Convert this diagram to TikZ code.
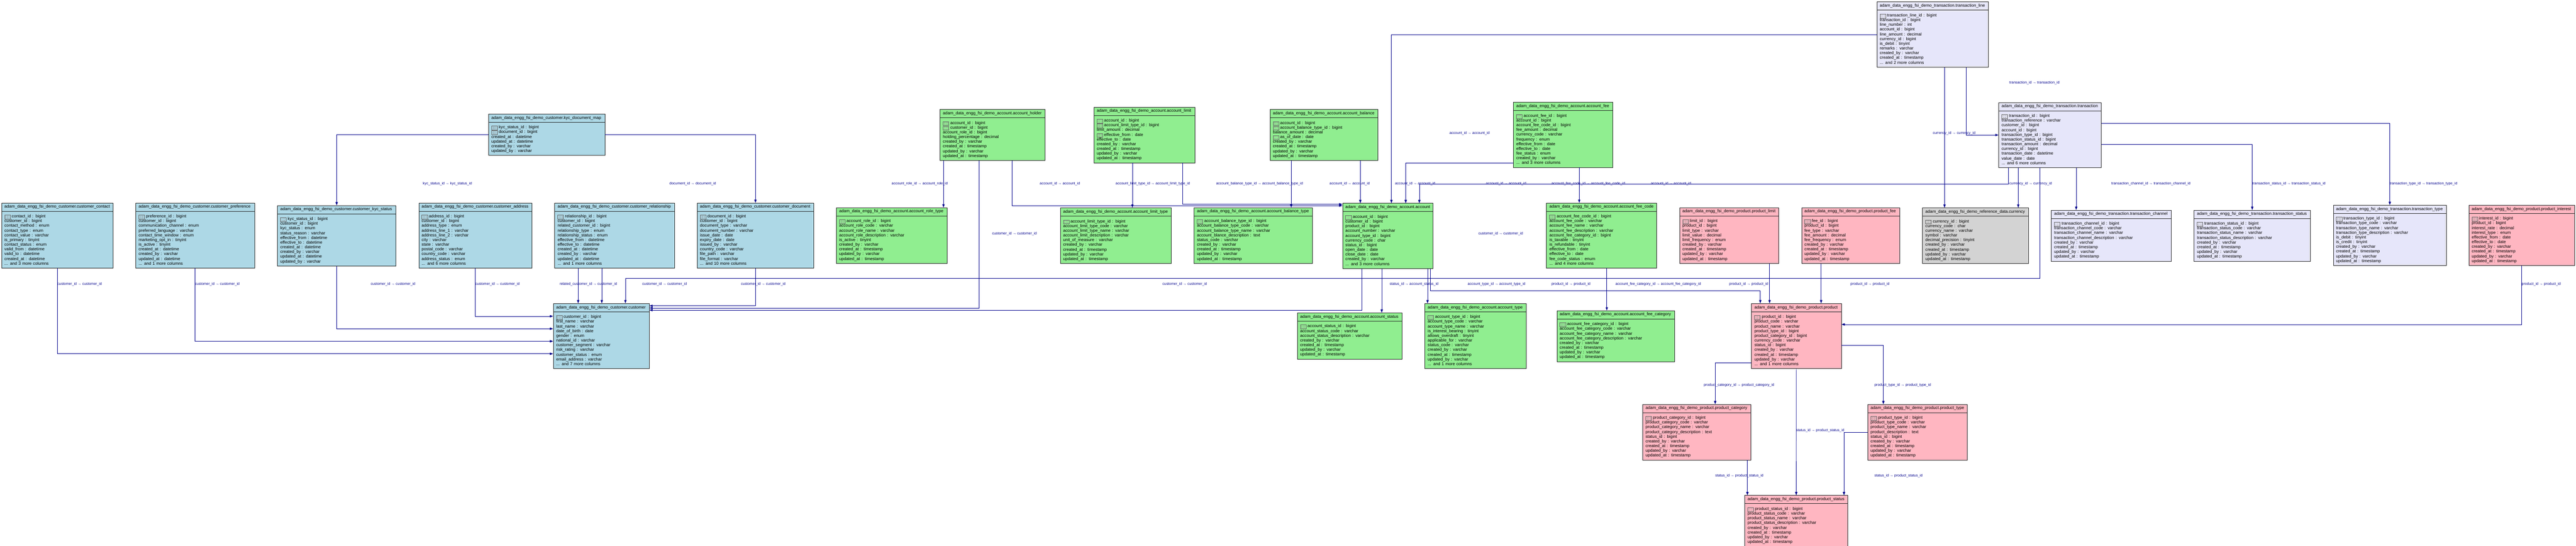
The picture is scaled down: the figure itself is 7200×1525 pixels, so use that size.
\documentclass[tikz,border=0pt]{standalone}
\usepackage{fontspec}
\setmainfont{Liberation Sans}
\usetikzlibrary{shapes.multipart,arrows.meta}
\definecolor{custblue}{RGB}{173,216,230}
\definecolor{acctgreen}{RGB}{144,238,144}
\definecolor{prodpink}{RGB}{255,182,193}
\definecolor{trlav}{RGB}{230,230,250}
\definecolor{refgray}{RGB}{211,211,211}
\definecolor{fkblue}{RGB}{0,0,139}
\newcommand\tfont{\fontsize{11.7}{13.2}\selectfont\parindent=0pt}
\newcommand\fld{\par\strut}
\newcommand\keyic{\tikz[x=1pt,y=1pt,baseline=3.5pt]{\draw[black!60,line width=0.6pt] (0,0) rectangle (16,11);
  \foreach \u in {4,8,12} \draw[black!45,line width=0.5pt] (\u,2) -- (\u,4.5) (\u,6.5) -- (\u,9);}\hspace{4pt}}
\tikzset{
  tbl/.style={rectangle split, rectangle split parts=2, draw=black!85, line width=1pt, fill=#1,
    anchor=north west, inner xsep=8pt, inner ysep=4.4pt, align=left, font=\tfont},
  fk/.style={draw=fkblue, line width=1pt, -{Triangle[length=9pt,width=6.5pt]}},
  lbl/.style={anchor=west, inner sep=0pt, text=fkblue, font=\fontsize{10}{12}\selectfont}
}
\begin{document}
\catcode`\_=12
\begin{tikzpicture}[x=1pt,y=-1pt]
  \def\pre{adam_data_engg_fsi_demo_}
  \useasboundingbox (0,0) rectangle (7200,1525);
  % customer schema
  \node[tbl=custblue, text width=296pt] (contact) at (4,567) {\strut\pre customer.customer_contact
    \nodepart{two}\fld\keyic contact_id : bigint \fld customer_id : bigint \fld contact_method : enum
    \fld contact_type : enum \fld contact_value : varchar \fld is_primary : tinyint \fld contact_status : enum
    \fld valid_from : datetime \fld valid_to : datetime \fld created_at : datetime \fld ... and 3 more columns};
  \node[tbl=custblue, text width=316pt] (pref) at (379,567) {\strut\pre customer.customer_preference
    \nodepart{two}\fld\keyic preference_id : bigint \fld customer_id : bigint \fld communication_channel : enum
    \fld preferred_language : varchar \fld contact_time_window : enum \fld marketing_opt_in : tinyint
    \fld is_active : tinyint \fld created_at : datetime \fld created_by : varchar \fld updated_at : datetime
    \fld ... and 1 more columns};
  \node[tbl=custblue, text width=315pt] (kycst) at (775,574) {\strut\pre customer.customer_kyc_status
    \nodepart{two}\fld\keyic kyc_status_id : bigint \fld customer_id : bigint \fld kyc_status : enum
    \fld status_reason : varchar \fld effective_from : datetime \fld effective_to : datetime
    \fld created_at : datetime \fld created_by : varchar \fld updated_at : datetime \fld updated_by : varchar};
  \node[tbl=custblue, text width=300pt] (address) at (1170,567) {\strut\pre customer.customer_address
    \nodepart{two}\fld\keyic address_id : bigint \fld customer_id : bigint \fld address_type : enum
    \fld address_line_1 : varchar \fld address_line_2 : varchar \fld city : varchar \fld state : varchar
    \fld postal_code : varchar \fld country_code : varchar \fld address_status : enum \fld ... and 6 more columns};
  \node[tbl=custblue, text width=319pt] (relship) at (1550,567) {\strut\pre customer.customer_relationship
    \nodepart{two}\fld\keyic relationship_id : bigint \fld customer_id : bigint \fld related_customer_id : bigint
    \fld relationship_type : enum \fld relationship_status : enum \fld effective_from : datetime
    \fld effective_to : datetime \fld created_at : datetime \fld created_by : varchar \fld updated_at : datetime
    \fld ... and 1 more columns};
  \node[tbl=custblue, text width=310pt] (document) at (1948,567) {\strut\pre customer.customer_document
    \nodepart{two}\fld\keyic document_id : bigint \fld customer_id : bigint \fld document_type : varchar
    \fld document_number : varchar \fld issue_date : date \fld expiry_date : date \fld issued_by : varchar
    \fld country_code : varchar \fld file_path : varchar \fld file_format : varchar \fld ... and 10 more columns};
  \node[tbl=custblue, text width=309pt] (kycmap) at (1365,318) {\strut\pre customer.kyc_document_map
    \nodepart{two}\fld\keyic kyc_status_id : bigint \fld\keyic document_id : bigint \fld created_at : datetime
    \fld updated_at : datetime \fld created_by : varchar \fld updated_by : varchar};
  \node[tbl=custblue, text width=252pt] (customer) at (1546,848) {\strut\pre customer.customer
    \nodepart{two}\fld\keyic customer_id : bigint \fld first_name : varchar \fld last_name : varchar
    \fld date_of_birth : date \fld gender : enum \fld national_id : varchar \fld customer_segment : varchar
    \fld risk_rating : varchar \fld customer_status : enum \fld email_address : varchar \fld ... and 7 more columns};
  % account schema
  \node[tbl=acctgreen, text width=277pt] (holder) at (2627,305.5) {\strut\pre account.account_holder
    \nodepart{two}\fld\keyic account_id : bigint \fld\keyic customer_id : bigint \fld account_role_id : bigint
    \fld holding_percentage : decimal \fld created_by : varchar \fld created_at : timestamp
    \fld updated_by : varchar \fld updated_at : timestamp};
  \node[tbl=acctgreen, text width=266pt] (limit) at (3057,299) {\strut\pre account.account_limit
    \nodepart{two}\fld\keyic account_id : bigint \fld\keyic account_limit_type_id : bigint \fld limit_amount : decimal
    \fld\keyic effective_from : date \fld effective_to : date \fld created_by : varchar \fld created_at : timestamp
    \fld updated_by : varchar \fld updated_at : timestamp};
  \node[tbl=acctgreen, text width=286pt] (balance) at (3549,305.5) {\strut\pre account.account_balance
    \nodepart{two}\fld\keyic account_id : bigint \fld\keyic account_balance_type_id : bigint \fld balance_amount : decimal
    \fld\keyic as_of_date : date \fld created_by : varchar \fld created_at : timestamp
    \fld updated_by : varchar \fld updated_at : timestamp};
  \node[tbl=acctgreen, text width=261pt] (fee) at (4229.5,285.7) {\strut\pre account.account_fee
    \nodepart{two}\fld\keyic account_fee_id : bigint \fld account_id : bigint \fld account_fee_code_id : bigint
    \fld fee_amount : decimal \fld currency_code : varchar \fld frequency : enum \fld effective_from : date
    \fld effective_to : date \fld fee_status : enum \fld created_by : varchar \fld ... and 3 more columns};
  \node[tbl=acctgreen, text width=293pt] (roletype) at (2337,580) {\strut\pre account.account_role_type
    \nodepart{two}\fld\keyic account_role_id : bigint \fld account_role_code : varchar \fld account_role_name : varchar
    \fld account_role_description : varchar \fld is_active : tinyint \fld created_by : varchar
    \fld created_at : timestamp \fld updated_by : varchar \fld updated_at : timestamp};
  \node[tbl=acctgreen, text width=294pt] (limittype) at (2963,580.5) {\strut\pre account.account_limit_type
    \nodepart{two}\fld\keyic account_limit_type_id : bigint \fld account_limit_type_code : varchar
    \fld account_limit_type_name : varchar \fld account_limit_description : varchar \fld unit_of_measure : varchar
    \fld created_by : varchar \fld created_at : timestamp \fld updated_by : varchar \fld updated_at : timestamp};
  \node[tbl=acctgreen, text width=314pt] (baltype) at (3337,580) {\strut\pre account.account_balance_type
    \nodepart{two}\fld\keyic account_balance_type_id : bigint \fld account_balance_type_code : varchar
    \fld account_balance_type_name : varchar \fld account_blance_description : text \fld status_code : varchar
    \fld created_by : varchar \fld created_at : timestamp \fld updated_by : varchar \fld updated_at : timestamp};
  \node[tbl=acctgreen, text width=237pt] (account) at (3752,568) {\strut\pre account.account
    \nodepart{two}\fld\keyic account_id : bigint \fld customer_id : bigint \fld product_id : bigint
    \fld account_number : varchar \fld account_type_id : bigint \fld currency_code : char \fld status_id : bigint
    \fld open_date : date \fld close_date : date \fld created_by : varchar \fld ... and 3 more columns};
  \node[tbl=acctgreen, text width=292pt] (feecode) at (4322,567) {\strut\pre account.account_fee_code
    \nodepart{two}\fld\keyic account_fee_code_id : bigint \fld account_fee_code : varchar \fld account_fee_name : varchar
    \fld account_fee_description : varchar \fld account_fee_category_id : bigint \fld is_taxable : tinyint
    \fld is_refundable : tinyint \fld effective_from : date \fld effective_to : date \fld fee_code_status : enum
    \fld ... and 4 more columns};
  \node[tbl=acctgreen, text width=277pt] (acctstatus) at (3625.5,874) {\strut\pre account.account_status
    \nodepart{two}\fld\keyic account_status_id : bigint \fld account_status_code : varchar
    \fld account_status_description : varchar \fld created_by : varchar \fld created_at : timestamp
    \fld updated_by : varchar \fld updated_at : timestamp};
  \node[tbl=acctgreen, text width=267pt] (accttype) at (3982,848) {\strut\pre account.account_type
    \nodepart{two}\fld\keyic account_type_id : bigint \fld account_type_code : varchar \fld account_type_name : varchar
    \fld is_interest_bearing : tinyint \fld allows_overdraft : tinyint \fld applicable_for : varchar
    \fld status_code : varchar \fld created_by : varchar \fld created_at : timestamp \fld updated_by : varchar
    \fld ... and 1 more columns};
  \node[tbl=acctgreen, text width=313pt] (feecat) at (4351,868) {\strut\pre account.account_fee_category
    \nodepart{two}\fld\keyic account_fee_category_id : bigint \fld account_fee_category_code : varchar
    \fld account_fee_category_name : varchar \fld account_fee_category_description : varchar
    \fld created_by : varchar \fld created_at : timestamp \fld updated_by : varchar \fld updated_at : timestamp};
  % product schema
  \node[tbl=prodpink, text width=261pt] (plimit) at (4694,580) {\strut\pre product.product_limit
    \nodepart{two}\fld\keyic limit_id : bigint \fld product_id : bigint \fld limit_type : varchar
    \fld limit_value : decimal \fld limit_frequency : enum \fld created_by : varchar \fld created_at : timestamp
    \fld updated_by : varchar \fld updated_at : timestamp};
  \node[tbl=prodpink, text width=258pt] (pfee) at (5035,580) {\strut\pre product.product_fee
    \nodepart{two}\fld\keyic fee_id : bigint \fld product_id : bigint \fld fee_type : varchar
    \fld fee_amount : decimal \fld fee_frequency : enum \fld created_by : varchar \fld created_at : timestamp
    \fld updated_by : varchar \fld updated_at : timestamp};
  \node[tbl=prodpink, text width=279pt] (pinterest) at (6900,573) {\strut\pre product.product_interest
    \nodepart{two}\fld\keyic interest_id : bigint \fld product_id : bigint \fld interest_rate : decimal
    \fld interest_type : enum \fld effective_from : date \fld effective_to : date \fld created_by : varchar
    \fld created_at : timestamp \fld updated_by : varchar \fld updated_at : timestamp};
  \node[tbl=prodpink, text width=235pt] (product) at (4895,848) {\strut\pre product.product
    \nodepart{two}\fld\keyic product_id : bigint \fld product_code : varchar \fld product_name : varchar
    \fld product_type_id : bigint \fld product_category_id : bigint \fld currency_code : varchar
    \fld status_id : bigint \fld created_by : varchar \fld created_at : timestamp \fld updated_by : varchar
    \fld ... and 1 more columns};
  \node[tbl=prodpink, text width=286pt] (pcategory) at (4591,1130) {\strut\pre product.product_category
    \nodepart{two}\fld\keyic product_category_id : bigint \fld product_category_code : varchar
    \fld product_category_name : varchar \fld product_category_description : text \fld status_id : bigint
    \fld created_by : varchar \fld created_at : timestamp \fld updated_by : varchar \fld updated_at : timestamp};
  \node[tbl=prodpink, text width=262pt] (ptype) at (5220,1130) {\strut\pre product.product_type
    \nodepart{two}\fld\keyic product_type_id : bigint \fld product_type_code : varchar \fld product_type_name : varchar
    \fld product_description : text \fld status_id : bigint \fld created_by : varchar \fld created_at : timestamp
    \fld updated_by : varchar \fld updated_at : timestamp};
  \node[tbl=prodpink, text width=272pt] (pstatus) at (4876,1384.5) {\strut\pre product.product_status
    \nodepart{two}\fld\keyic product_status_id : bigint \fld product_status_code : varchar
    \fld product_status_name : varchar \fld product_status_description : varchar \fld created_by : varchar
    \fld created_at : timestamp \fld updated_by : varchar \fld updated_at : timestamp};
  % transaction schema
  \node[tbl=trlav, text width=296pt] (tline) at (5245.5,5) {\strut\pre transaction.transaction_line
    \nodepart{two}\fld\keyic transaction_line_id : bigint \fld transaction_id : bigint \fld line_number : int
    \fld account_id : bigint \fld line_amount : decimal \fld currency_id : bigint \fld is_debit : tinyint
    \fld remarks : varchar \fld created_by : varchar \fld created_at : timestamp \fld ... and 2 more columns};
  \node[tbl=trlav, text width=270pt] (trans) at (5586,286) {\strut\pre transaction.transaction
    \nodepart{two}\fld\keyic transaction_id : bigint \fld transaction_reference : varchar \fld customer_id : bigint
    \fld account_id : bigint \fld transaction_type_id : bigint \fld transaction_status_id : bigint
    \fld transaction_amount : decimal \fld currency_id : bigint \fld transaction_date : datetime
    \fld value_date : date \fld ... and 6 more columns};
  \node[tbl=trlav, text width=319pt] (tchannel) at (5733,587) {\strut\pre transaction.transaction_channel
    \nodepart{two}\fld\keyic transaction_channel_id : bigint \fld transaction_channel_code : varchar
    \fld transaction_channel_name : varchar \fld transaction_channel_description : varchar
    \fld created_by : varchar \fld created_at : timestamp \fld updated_by : varchar \fld updated_at : timestamp};
  \node[tbl=trlav, text width=309pt] (tstatus) at (6132,587) {\strut\pre transaction.transaction_status
    \nodepart{two}\fld\keyic transaction_status_id : bigint \fld transaction_status_code : varchar
    \fld transaction_status_name : varchar \fld transaction_status_description : varchar
    \fld created_by : varchar \fld created_at : timestamp \fld updated_by : varchar \fld updated_at : timestamp};
  \node[tbl=trlav, text width=300pt] (ttype) at (6521,573) {\strut\pre transaction.transaction_type
    \nodepart{two}\fld\keyic transaction_type_id : bigint \fld transaction_type_code : varchar
    \fld transaction_type_name : varchar \fld transaction_type_description : varchar \fld is_debit : tinyint
    \fld is_credit : tinyint \fld created_by : varchar \fld created_at : timestamp \fld updated_by : varchar
    \fld updated_at : timestamp};
  % reference data
  \node[tbl=refgray, text width=280pt] (currency) at (5373,580.6) {\strut\pre reference_data.currency
    \nodepart{two}\fld\keyic currency_id : bigint \fld currency_code : char \fld currency_name : varchar
    \fld symbol : varchar \fld decimal_precision : tinyint \fld created_by : varchar \fld created_at : timestamp
    \fld updated_by : varchar \fld updated_at : timestamp};
  % foreign keys
  \draw[fk] (contact.south) |- (customer.west |- 0,989);
  \draw[fk] (pref.south) |- (customer.west |- 0,954);
  \draw[fk] (kycst.south) |- (customer.west |- 0,919);
  \draw[fk] (address.south) |- (customer.west |- 0,884);
  \draw[fk] (relship.south -| 1616,0) -- (customer.north -| 1616,0);
  \draw[fk] (relship.south -| 1682,0) -- (customer.north -| 1682,0);
  \draw[fk] (document.south) |- (customer.east |- 0,855);
  \draw[fk] (kycmap.west) -| (kycst.north);
  \draw[fk] (kycmap.east) -| (document.north);
  \draw[fk] (holder.south -| 2637,0) -- (roletype.north -| 2637,0);
  \draw[fk] (holder.south -| 2737,0) |- (customer.east |- 0,861);
  \draw[fk] (holder.south -| 2829,0) |- (account.west |- 0,575);
  \draw[fk] (limit.south -| 3165,0) -- (limittype.north -| 3165,0);
  \draw[fk] (limit.south -| 3305,0) |- (account.west |- 0,571);
  \draw[fk] (balance.south -| 3609,0) -- (baltype.north -| 3609,0);
  \draw[fk] (balance.south -| 3802,0) -- (account.north -| 3802,0);
  \draw[fk] (fee.west |- 0,455) -| (account.north -| 3929,0);
  \draw[fk] (fee.south -| 4414,0) -- (feecode.north -| 4414,0);
  \draw[fk] (feecode.south -| 4491,0) -- (feecat.north -| 4491,0);
  \draw[fk] (account.south -| 3807,0) |- (customer.east |- 0,867);
  \draw[fk] (account.south -| 3862,0) -- (acctstatus.north -| 3862,0);
  \draw[fk] (account.south -| 3990,0) -- (accttype.north -| 3990,0);
  \draw[fk] (account.south -| 3998,0) -- (3998,813) -| (product.north -| 4920,0);
  \draw[fk] (tline.west) -| (account.north -| 3889,0);
  \draw[fk] (tline.south -| 5496,0) |- (trans.west);
  \draw[fk] (tline.south -| 5435,0) -- (currency.north -| 5435,0);
  \draw[fk] (trans.south -| 5613,0) -- (5613,514) -| (account.north -| 3967,0);
  \draw[fk] (trans.south -| 5701,0) -- (5701,778) -| (customer.north -| 1748,0);
  \draw[fk] (trans.south -| 5641,0) -- (currency.north -| 5641,0);
  \draw[fk] (trans.south -| 5803,0) -- (tchannel.north -| 5803,0);
  \draw[fk] (trans.east |- 0,404) -| (tstatus.north);
  \draw[fk] (trans.east |- 0,345) -| (ttype.north);
  \draw[fk] (plimit.south -| 4946,0) -- (product.north -| 4946,0);
  \draw[fk] (pfee.south -| 5090,0) -- (product.north -| 5090,0);
  \draw[fk] (pinterest.south) |- (product.east |- 0,907);
  \draw[fk] (product.west |- 0,1014) -| (pcategory.north -| 4794,0);
  \draw[fk] (product.east |- 0,966) -| (ptype.north -| 5264,0);
  \draw[fk] (product.south) -- (pstatus.north);
  \draw[fk] (pcategory.south -| 4884,0) -- (pstatus.north -| 4884,0);
  \draw[fk] (ptype.west) -| (pstatus.north -| 5154,0);
  % edge labels
  \foreach \x/\y/\t [count=\i] in {
    160/795/customer_id → customer_id, 545/795/customer_id → customer_id,
    1036/795/customer_id → customer_id, 1328/795/customer_id → customer_id,
    1564/794/related_customer_id → customer_id, 1795/794/customer_id → customer_id,
    2071/794/customer_id → customer_id, 1182/513/kyc_status_id → kyc_status_id,
    1871/513/document_id → document_id, 2492/513/account_role_id → account_role_id,
    2906/514/account_id → account_id, 3118/514/account_limit_type_id → account_limit_type_id,
    3399/514/account_balance_type_id → account_balance_type_id, 3716/514/account_id → account_id,
    3899/513/account_id → account_id, 4153/513/account_id → account_id,
    4336/513/account_fee_code_id → account_fee_code_id, 4614/513/account_id → account_id,
    4051/372/account_id → account_id, 2773/653/customer_id → customer_id,
    4132/653/customer_id → customer_id, 3249/794/customer_id → customer_id,
    3884/794/status_id → account_status_id, 4102/794/account_type_id → account_type_id,
    4336/794/product_id → product_id, 4515/794/account_fee_category_id → account_fee_category_id,
    4833/794/product_id → product_id, 5172/794/product_id → product_id,
    7048/794/product_id → product_id, 5616/232/transaction_id → transaction_id,
    5402/372/currency_id → currency_id, 5616/513/currency_id → currency_id,
    5901/513/transaction_channel_id → transaction_channel_id,
    6295/513/transaction_status_id → transaction_status_id,
    6679/513/transaction_type_id → transaction_type_id,
    4762/1076/product_category_id → product_category_id, 5239/1076/product_type_id → product_type_id,
    5020/1203/status_id → product_status_id, 4794/1330/status_id → product_status_id,
    5239/1330/status_id → product_status_id}
    \node[lbl] (lab\i) at (\x,\y) {\t};
\end{tikzpicture}
\end{document}
